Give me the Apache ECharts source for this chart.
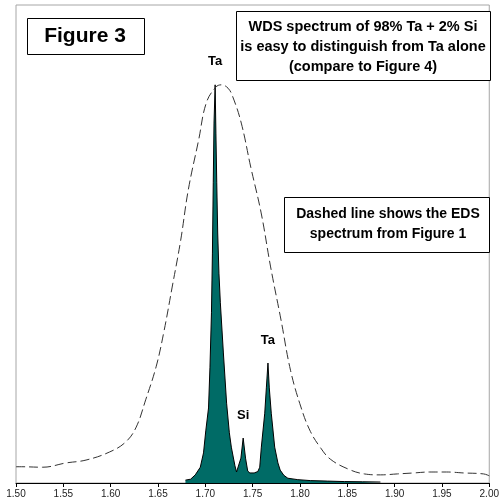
<!DOCTYPE html>
<html>
<head>
<meta charset="utf-8">
<script src="https://cdn.jsdelivr.net/npm/echarts@6/dist/echarts.min.js"></script>
<style>
html,body{margin:0;padding:0;background:#fff;}
#c{width:502px;height:504px;}
</style>
</head>
<body>
<div id="c"></div>
<script>
// Energy axis (keV)
const xTicks = [1.50,1.55,1.60,1.65,1.70,1.75,1.80,1.85,1.90,1.95,2.00];

// WDS spectrum (98% Ta + 2% Si)
const wdsX = [1.679,1.6845,1.6894,1.6947,1.6981,1.7005,1.7034,1.7049,1.7065,1.7075,1.7084,1.7092,1.7104,1.7112,1.7121,1.7131,1.7144,1.7159,1.7191,1.7225,1.7254,1.7275,1.7313,1.7330,1.7348,1.7376,1.7400,1.7425,1.7448,1.7471,1.7516,1.7555,1.7575,1.7592,1.7628,1.7645,1.7662,1.7676,1.7697,1.7733,1.7767,1.7791,1.7830,1.7872,1.7977,1.8113,1.829,1.847,1.866,1.885];
const wdsY = [0.6,0.8,1.7,3.3,6.3,10.9,15.7,24.1,35.6,48.1,62.8,75.3,83.3,73.2,62.8,52.3,43.9,37.7,27.2,16.7,10.5,7.5,3.6,2.3,2.1,5.2,9.4,5.2,2.5,2.1,2.1,2.4,3.3,7.5,14.6,19.9,25.1,19.9,14.6,7.5,4.2,2.7,1.6,1.0,0.7,0.5,0.4,0.3,0.25,0.2];

// EDS spectrum (dashed, from Figure 1)
const edsX = [1.500,1.506,1.528,1.553,1.574,1.599,1.616,1.627,1.637,1.648,1.656,1.665,1.674,1.682,1.693,1.701,1.711,1.717,1.724,1.729,1.738,1.748,1.759,1.769,1.780,1.790,1.801,1.811,1.822,1.832,1.850,1.868,1.885,1.903,1.920,1.937,1.955,1.973,1.994,2.000];
const edsY = [3.4,3.4,3.3,4.2,4.8,6.5,8.6,11.7,17.4,24.3,31.4,41.0,50.8,61.3,71.8,79.5,82.8,83.3,82.6,80.8,75.3,66.1,56.5,45.2,34.1,23.6,15.9,10.8,7.3,5.0,3.0,1.9,1.7,1.9,2.1,2.3,2.3,2.1,1.9,1.5];

// Peak labels
const peakNames = ['Ta','Si','Ta'];
const peakX = [1.7104,1.7400,1.7662];
const peakY = [83.3,9.4,25.1];

const chart = echarts.init(document.getElementById('c'), null, {renderer:'canvas'});
const font = 'Liberation Sans, Arial, sans-serif';

const boxes = [
  {type:'rect',shape:{x:27.5,y:18.5,width:117,height:36},style:{fill:'#fff',stroke:'#000',lineWidth:1}},
  {type:'text',x:85,y:36.5,style:{text:'Figure 3',font:'bold 21px '+font,fill:'#000',align:'center',verticalAlign:'middle'}},
  {type:'rect',shape:{x:236.5,y:11.5,width:254,height:69},style:{fill:'#fff',stroke:'#000',lineWidth:1}},
  {type:'text',x:363,y:47,style:{text:'WDS spectrum of 98% Ta + 2% Si\nis easy to distinguish from Ta alone\n(compare to Figure 4)',font:'bold 14.5px '+font,fill:'#000',align:'center',verticalAlign:'middle',lineHeight:20}},
  {type:'rect',shape:{x:284.5,y:197.5,width:205,height:55},style:{fill:'#fff',stroke:'#000',lineWidth:1}},
  {type:'text',x:388,y:224,style:{text:'Dashed line shows the EDS\nspectrum from Figure 1',font:'bold 14px '+font,fill:'#000',align:'center',verticalAlign:'middle',lineHeight:20}}
];

chart.setOption({
  animation:false,
  backgroundColor:'#fff',
  grid:{left:16,right:9,top:5,bottom:21,show:true,borderColor:'#a6a6a6',borderWidth:1,backgroundColor:'transparent'},
  xAxis:{
    type:'value',min:1.5,max:2.0,interval:0.05,
    axisLine:{show:true,onZero:false,lineStyle:{color:'#000',width:1}},
    axisTick:{show:true,length:4,lineStyle:{color:'#000'}},
    axisLabel:{fontFamily:font,fontSize:10,color:'#222',margin:6,
      formatter:v=>{const t=xTicks.find(k=>Math.abs(k-v)<1e-6);return (t!==undefined?t:v).toFixed(2);}},
    splitLine:{show:false}
  },
  yAxis:{
    type:'value',min:0,max:100,
    axisLine:{show:false},axisTick:{show:false},axisLabel:{show:false},splitLine:{show:false}
  },
  series:[
    {
      type:'line',name:'WDS',
      data:wdsX.map((x,i)=>[x,wdsY[i]]),
      showSymbol:false,smooth:false,
      lineStyle:{color:'#000',width:1},
      areaStyle:{color:'#006b66',opacity:1},
      z:2
    },
    {
      type:'line',name:'EDS',
      data:edsX.map((x,i)=>[x,edsY[i]]),
      showSymbol:false,smooth:0.4,
      lineStyle:{color:'#333',width:1,type:[9,4]},
      z:3
    }
  ],
  graphic:boxes
});

// Peak labels placed through the chart's own scales
const labelEls = peakX.map((x,i)=>{
  const p = chart.convertToPixel({gridIndex:0},[x,peakY[i]]);
  return {type:'text',x:p[0],y:p[1]-23,style:{text:peakNames[i],font:'bold 13px '+font,fill:'#000',align:'center',verticalAlign:'middle'}};
});
chart.setOption({graphic:boxes.concat(labelEls)});
</script>
</body>
</html>
